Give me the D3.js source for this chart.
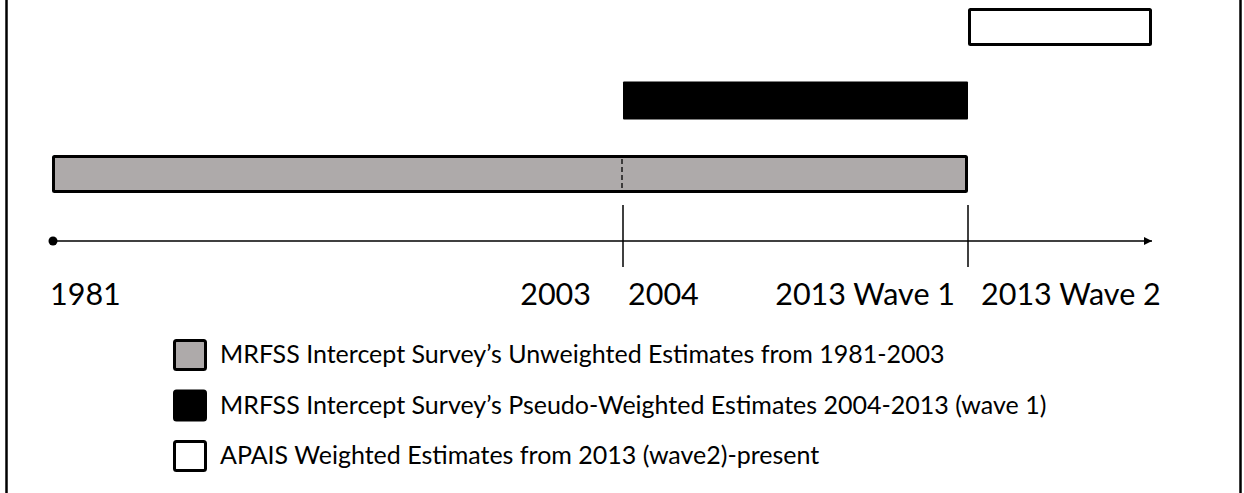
<!DOCTYPE html>
<html>
<head>
<meta charset="utf-8">
<script src="https://cdn.jsdelivr.net/npm/d3@7"></script>
<style>
  body { margin: 0; background: #fff; }
  text { font-family: Lato, "Open Sans", sans-serif; fill: #000; }
</style>
</head>
<body>
<div id="timeline"></div>
<script>
// Timeline stops: 0 = 1981, 1 = 2003/2004 split, 2 = 2013 wave 1/wave 2 split, 3 = present
var stops = [0, 1, 2, 3];

// Survey series (bottom to top)
var seriesNames = [
    "MRFSS Intercept Survey\u2019s Unweighted Estimates from 1981-2003",
    "MRFSS Intercept Survey\u2019s Pseudo-Weighted Estimates 2004-2013 (wave 1)",
    "APAIS Weighted Estimates from 2013 (wave2)-present"
];
var seriesStart = [0, 1, 2];
var seriesEnd = [2, 2, 3];

// Labels under the axis
var tickLabels = ["1981", "2003", "2004", "2013 Wave 1", "2013 Wave 2"];
var tickStops = [0, 1, 1, 2, 2];
var tickSide = ["start", "end", "start", "end", "start"];

// Marker lines crossing the axis
var markerStops = [1, 2];

var width = 1244, height = 493;

var svg = d3.select("#timeline")
  .append("svg")
    .attr("width", width)
    .attr("height", height);

// frame, left and right sides only
svg.append("line").attr("x1", 6.5).attr("x2", 6.5).attr("y1", 0).attr("y2", height)
    .attr("stroke", "#000").attr("stroke-width", 2.5);
svg.append("line").attr("x1", 1240.5).attr("x2", 1240.5).attr("y1", 0).attr("y2", height)
    .attr("stroke", "#000").attr("stroke-width", 2.5);

// piecewise scale along the timeline
var x = d3.scaleLinear()
    .domain(stops)
    .range([52, 623, 968, 1152]);

// rows for the bars, top row is the last series
var rows = d3.scalePoint()
    .domain([2, 1, 0])
    .range([8, 155]);
var rowHeight = 38;
function rowY(i) { return rows(i); }

var color = d3.scaleOrdinal()
    .domain([0, 1, 2])
    .range(["#aeaaaa", "#000000", "#ffffff"]);
var outline = [3, 0, 3];

var bars = seriesNames.map(function(name, i) {
    return {name: name, i: i, start: seriesStart[i], end: seriesEnd[i]};
});

svg.append("g")
  .selectAll("rect")
  .data(bars)
  .enter()
  .append("rect")
    .attr("x", function(d) { return x(d.start) + (outline[d.i] ? 1.5 : 0); })
    .attr("y", function(d) { return rowY(d.i) + (outline[d.i] ? 1.5 : 0); })
    .attr("width", function(d) { return x(d.end) - x(d.start) - (outline[d.i] ? 3 : 0); })
    .attr("height", function(d) { return rowHeight - (outline[d.i] ? 3 : 0); })
    .attr("rx", 1)
    .style("fill", function(d) { return color(d.i); })
    .style("stroke", "#000")
    .style("stroke-width", function(d) { return outline[d.i]; });

// dashed split inside the grey bar
svg.append("line")
    .attr("x1", x(1) - 1).attr("x2", x(1) - 1)
    .attr("y1", rowY(0) + 4).attr("y2", rowY(0) + rowHeight - 3)
    .attr("stroke", "#000").attr("stroke-width", 1.3)
    .attr("stroke-dasharray", "5,3");

// time axis with arrow
var axisY = 241;
svg.append("defs").append("marker")
    .attr("id", "arrow")
    .attr("viewBox", "0 0 10 10")
    .attr("refX", 10).attr("refY", 5)
    .attr("markerWidth", 10).attr("markerHeight", 8)
    .attr("markerUnits", "userSpaceOnUse")
    .attr("orient", "auto")
  .append("path")
    .attr("d", "M0,0L10,5L0,10Z")
    .attr("fill", "#000");

svg.append("line")
    .attr("x1", x(0)).attr("x2", x(3))
    .attr("y1", axisY).attr("y2", axisY)
    .attr("stroke", "#000").attr("stroke-width", 1.5)
    .attr("marker-end", "url(#arrow)");

svg.append("circle")
    .attr("cx", x(0) + 1).attr("cy", axisY)
    .attr("r", 4.5)
    .attr("fill", "#000");

svg.append("g")
  .selectAll("line")
  .data(markerStops)
  .enter()
  .append("line")
    .attr("x1", function(d) { return x(d); })
    .attr("x2", function(d) { return x(d); })
    .attr("y1", 205).attr("y2", 267)
    .attr("stroke", "#000").attr("stroke-width", 1.5);

// labels under the axis
var gap = {"1981": -2, "2003": 32, "2004": 5, "2013 Wave 1": 13, "2013 Wave 2": 13};
svg.append("g")
  .selectAll("text")
  .data(tickLabels)
  .enter()
  .append("text")
    .attr("x", function(d, i) {
        return tickSide[i] === "end" ? x(tickStops[i]) - gap[d] : x(tickStops[i]) + gap[d];
    })
    .attr("y", 305)
    .attr("text-anchor", function(d, i) { return tickSide[i]; })
    .style("font-size", "30.5px")
    .text(function(d) { return d; });

// legend
var legend = svg.append("g")
  .selectAll("g")
  .data(bars)
  .enter()
  .append("g")
    .attr("transform", function(d) { return "translate(173," + (339 + d.i * 50.5) + ")"; });

legend.append("rect")
    .attr("x", 1.5).attr("y", 1.5)
    .attr("width", 31).attr("height", 29)
    .attr("rx", 2)
    .style("fill", function(d) { return color(d.i); })
    .style("stroke", "#000")
    .style("stroke-width", 3);

legend.append("text")
    .attr("x", 47)
    .attr("y", 24)
    .style("font-size", "25px")
    .text(function(d) { return d.name; });
</script>
</body>
</html>
